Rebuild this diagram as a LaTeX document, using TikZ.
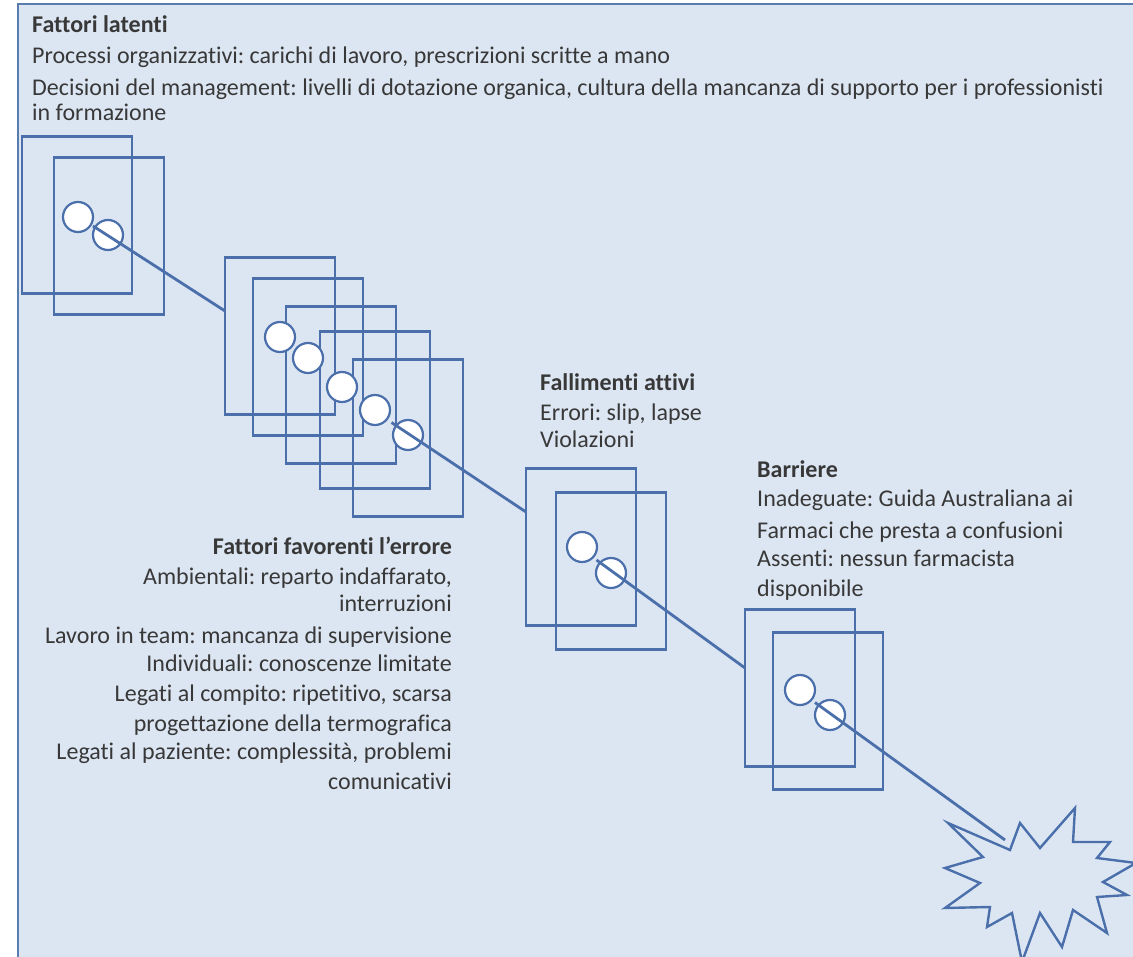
\documentclass[tikz,border=0pt]{standalone}
\usepackage{fontspec}
\setmainfont{Carlito}[Ligatures={TeX,NoCommon}]
\usetikzlibrary{calc}
\definecolor{bg}{HTML}{DCE6F2}
\definecolor{sliceblue}{HTML}{4A6FAA}
\definecolor{frameblue}{HTML}{5A7DB0}
\definecolor{txtgray}{HTML}{383838}
\frenchspacing
\begin{document}
\begin{tikzpicture}[x=1pt,y=-1pt,
  slice/.style={draw=sliceblue, line width=2.8pt, minimum width=110pt, minimum height=157pt, inner sep=0pt, outer sep=0pt},
  hole/.style={circle, draw=sliceblue, fill=white, line width=2.2pt, minimum size=30pt, inner sep=0pt},
  trajectory/.style={draw=sliceblue, line width=2.8pt},
  burst/.style={draw=sliceblue, line width=2.4pt, line join=miter},
  txt/.style={inner sep=0pt, font=\fontsize{24}{29.5}\selectfont, text=txtgray},
  ttl/.style={inner sep=0pt, font=\fontsize{24}{29.5}\selectfont\bfseries, text=txtgray}]
\useasboundingbox (0,0) rectangle (1133,957);
\path[fill=bg, draw=frameblue, line width=2.5pt] (18,4) rectangle (1160,980);

% group 1 (latent factors)
\node[slice] (g1a) at (77,215) {};
\node[slice] (g1b) at (109,236) {};
\node[hole] (g1h1) at (78,217) {};
\node[hole] (g1h2) at (108,235) {};

% group 2 (error-producing conditions)
\node[slice] (g2a) at (280,336) {};
\node[slice] (g2b) at (308,357) {};
\node[slice] (g2c) at (341,385) {};
\node[slice] (g2d) at (375,410) {};
\node[slice] (g2e) at (408,438) {};
\node[hole] (g2h1) at (280,337) {};
\node[hole] (g2h2) at (308,358) {};
\node[hole] (g2h3) at (342,387) {};
\node[hole] (g2h4) at (375,410) {};
\node[hole] (g2h5) at (408,435) {};

% group 3 (active failures)
\node[slice] (g3a) at (581,547) {};
\node[slice] (g3b) at (611,571) {};
\node[hole] (g3h1) at (582,547) {};
\node[hole] (g3h2) at (611,573) {};

% group 4 (barriers)
\node[slice] (g4a) at (800,688) {};
\node[slice] (g4b) at (828,711) {};
\node[hole] (g4h1) at (800,690) {};
\node[hole] (g4h2) at (830,715) {};

% trajectory
\coordinate (e1) at (225,311);
\coordinate (e2) at (526,512);
\coordinate (e3) at (745,668);
\coordinate (e4) at (1005,840);
\draw[trajectory] ($(g1h1.center)!0.5!(g1h2.center)$) -- (e1);
\draw[trajectory] ($(g2h4.center)!0.5!(g2h5.center)$) -- (e2);
\draw[trajectory] ($(g3h1.center)!0.5!(g3h2.center)$) -- (e3);
\draw[trajectory] ($(g4h1.center)!0.5!(g4h2.center)$) -- (e4);

% accident burst
\draw[burst] (948,823) -- (1010,850) -- (1020,823) -- (1040,848) -- (1075,808) -- (1073,842)
  -- (1110,842) -- (1097,858) -- (1136,863) -- (1103,882) -- (1127,895) -- (1097,897)
  -- (1107,933) -- (1073,910) -- (1062,947) -- (1040,913) -- (1022,962) -- (1012,913)
  -- (987,927) -- (990,907) -- (945,908) -- (980,883) -- (945,868) -- (983,857) -- cycle;

% texts
\node[ttl, anchor=base west] (lt0) at (32,33) {Fattori latenti};
\node[txt, anchor=base west] (lt1) at (32,64) {Processi organizzativi: carichi di lavoro, prescrizioni scritte a mano};
\node[txt, anchor=base west] (lt2) at (32,96) {Decisioni del management: livelli di dotazione organica, cultura della mancanza di supporto per i professionisti};
\node[txt, anchor=base west] (lt3) at (32,121) {in formazione};

\node[ttl, anchor=base west] (fa0) at (540,391) {Fallimenti attivi};
\node[txt, anchor=base west] (fa1) at (540,421) {Errori: slip, lapse};
\node[txt, anchor=base west] (fa2) at (540,448) {Violazioni};

\node[ttl, anchor=base west] (ba0) at (757,478) {Barriere};
\node[txt, anchor=base west] (ba1) at (757,506) {Inadeguate: Guida Australiana ai};
\node[txt, anchor=base west] (ba2) at (757,538) {Farmaci che presta a confusioni};
\node[txt, anchor=base west] (ba3) at (757,566) {Assenti: nessun farmacista};
\node[txt, anchor=base west] (ba4) at (757,596) {disponibile};

\node[ttl, anchor=base east] (ff0) at (452,554) {Fattori favorenti l'errore};
\node[txt, anchor=base east] (ff1) at (452,584) {Ambientali: reparto indaffarato,};
\node[txt, anchor=base east] (ff2) at (452,611) {interruzioni};
\node[txt, anchor=base east] (ff3) at (452,643) {Lavoro in team: mancanza di supervisione};
\node[txt, anchor=base east] (ff4) at (452,671) {Individuali: conoscenze limitate};
\node[txt, anchor=base east] (ff5) at (452,701) {Legati al compito: ripetitivo, scarsa};
\node[txt, anchor=base east] (ff6) at (452,731) {progettazione della termografica};
\node[txt, anchor=base east] (ff7) at (452,759) {Legati al paziente: complessità, problemi};
\node[txt, anchor=base east] (ff8) at (452,789) {comunicativi};
\end{tikzpicture}
\end{document}
